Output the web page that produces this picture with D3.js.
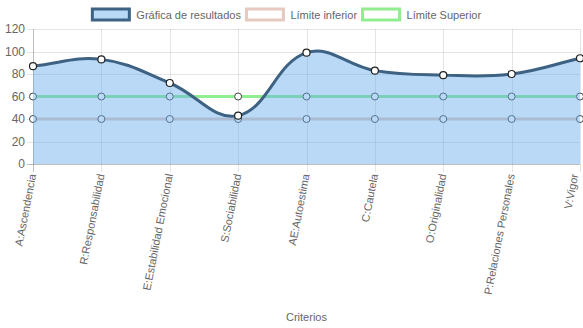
<!DOCTYPE html>
<html>
<head>
<meta charset="utf-8">
<script src="https://cdn.jsdelivr.net/npm/d3@7"></script>
<style>
  html, body { margin: 0; padding: 0; background: #fff; }
  svg { display: block; font-family: "Liberation Sans", Arial, Helvetica, sans-serif; }
</style>
</head>
<body>
<svg id="chart" width="583" height="328"></svg>
<script>
// Criteria on the x axis
const categories = [
  "A:Ascendencia", "R:Responsabilidad", "E:Estabilidad Emocional", "S:Sociabilidad",
  "AE:Autoestima", "C:Cautela", "O:Originalidad", "P:Relaciones Personales", "V:Vigor"
];
// Scores per criterion
const resultados = [87, 93, 72, 43, 99, 83, 79, 80, 94];
// Reference limits
const limiteInferior = [40, 40, 40, 40, 40, 40, 40, 40, 40];
const limiteSuperior = [60, 60, 60, 60, 60, 60, 60, 60, 60];
// Y axis ticks
const yTicks = [0, 20, 40, 60, 80, 100, 120];
// Legend entries
const legendLabels = ["Gráfica de resultados", "Límite inferior", "Límite Superior"];

const W = 583, H = 328;
const area = { left: 33, right: 580, top: 29, bottom: 164 };
const fontSize = 11;

const svg = d3.select("#chart");

const x = d3.scalePoint().domain(categories).range([area.left, area.right]);
const y = d3.scaleLinear().domain([0, 120]).range([area.bottom, area.top]);

// Spline with tension 0.4, control points weighted by segment length and kept inside the plot area
function tensionSpline(context) {
  const t = 0.4;
  const clampX = v => Math.max(area.left, Math.min(area.right, v));
  const clampY = v => Math.max(area.top, Math.min(area.bottom, v));
  return {
    _line: NaN, _pts: [],
    areaStart() { this._line = 0; },
    areaEnd() { this._line = NaN; },
    lineStart() { this._pts = []; },
    point(px, py) { this._pts.push([+px, +py]); },
    lineEnd() {
      const p = this._pts, n = p.length;
      if (n) {
        if (this._line) context.lineTo(p[0][0], p[0][1]);
        else context.moveTo(p[0][0], p[0][1]);
        const cps = p.map((cur, i) => {
          const prev = p[i - 1] || cur, next = p[i + 1] || cur;
          const d01 = Math.hypot(cur[0] - prev[0], cur[1] - prev[1]);
          const d12 = Math.hypot(next[0] - cur[0], next[1] - cur[1]);
          let s01 = d01 / (d01 + d12), s12 = d12 / (d01 + d12);
          if (!isFinite(s01)) s01 = 0;
          if (!isFinite(s12)) s12 = 0;
          const fa = t * s01, fb = t * s12;
          return {
            prev: [clampX(cur[0] - fa * (next[0] - prev[0])), clampY(cur[1] - fa * (next[1] - prev[1]))],
            next: [clampX(cur[0] + fb * (next[0] - prev[0])), clampY(cur[1] + fb * (next[1] - prev[1]))]
          };
        });
        for (let i = 1; i < n; i++) {
          const a = cps[i - 1].next, b = cps[i].prev;
          context.bezierCurveTo(a[0], a[1], b[0], b[1], p[i][0], p[i][1]);
        }
      }
      if (this._line || (this._line !== 0 && n === 1)) context.closePath();
      this._line = 1 - this._line;
    }
  };
}

const textColor = "#666";
const gridColor = "rgba(0,0,0,0.1)";
const zeroColor = "rgba(0,0,0,0.25)";

// Grid
const grid = svg.append("g");
yTicks.forEach(v => {
  grid.append("line")
    .attr("x1", area.left - 6).attr("x2", area.right)
    .attr("y1", Math.round(y(v)) + 0.5).attr("y2", Math.round(y(v)) + 0.5)
    .attr("stroke", v === 0 ? zeroColor : gridColor).attr("stroke-width", 1);
});
categories.forEach((c, i) => {
  grid.append("line")
    .attr("x1", Math.round(x(c)) + 0.5).attr("x2", Math.round(x(c)) + 0.5)
    .attr("y1", area.top).attr("y2", area.bottom + 8)
    .attr("stroke", i === 0 ? zeroColor : gridColor).attr("stroke-width", 1);
});

// Y axis labels
svg.append("g").selectAll("text").data(yTicks).join("text")
  .attr("x", area.left - 8).attr("y", d => y(d))
  .attr("dy", "0.35em").attr("text-anchor", "end")
  .attr("font-size", 12).attr("fill", textColor)
  .text(d => d);

// X axis labels, rotated; kept clear of the right edge of the canvas
svg.append("g").selectAll("text").data(categories).join("text")
  .attr("transform", d => `translate(${Math.min(x(d), W - 8)},${area.bottom + 10}) rotate(-79)`)
  .attr("dy", "0.3em").attr("text-anchor", "end")
  .attr("font-size", fontSize).attr("fill", textColor)
  .text(d => d);

// X axis title
svg.append("text")
  .attr("x", (area.left + area.right) / 2).attr("y", 321)
  .attr("text-anchor", "middle").attr("font-size", fontSize).attr("fill", textColor)
  .text("Criterios");

const line = d3.line().x((d, i) => x(categories[i])).y(d => y(d)).curve(tensionSpline);
const areaGen = d3.area().x((d, i) => x(categories[i])).y0(y(0)).y1(d => y(d)).curve(tensionSpline);

const fillColor = "rgba(99,171,235,0.45)";
const mainColor = "#3d6283";
const lowColor = "#e6c9bf";
const highColor = "#90ee90";

// Limit lines (drawn beneath the results fill)
[[limiteInferior, lowColor], [limiteSuperior, highColor]].forEach(([data, col]) => {
  svg.append("path").datum(data).attr("d", line)
    .attr("fill", "none").attr("stroke", col).attr("stroke-width", 3);
  svg.append("g").selectAll("circle").data(data).join("circle")
    .attr("cx", (d, i) => x(categories[i])).attr("cy", d => y(d))
    .attr("r", 3.5).attr("fill", "#fff").attr("stroke", "#444").attr("stroke-width", 1);
});

// Results area and line
svg.append("path").datum(resultados).attr("d", areaGen).attr("fill", fillColor);
svg.append("path").datum(resultados).attr("d", line)
  .attr("fill", "none").attr("stroke", mainColor).attr("stroke-width", 3);
svg.append("g").selectAll("circle").data(resultados).join("circle")
  .attr("cx", (d, i) => x(categories[i])).attr("cy", d => y(d))
  .attr("r", 3.5).attr("fill", "#fff").attr("stroke", "#222").attr("stroke-width", 1.2);

// Legend
const legendStyles = [
  { fill: fillColor, stroke: mainColor },
  { fill: "#fff", stroke: lowColor },
  { fill: "#fff", stroke: highColor }
];
const legend = svg.append("g");
const textOffset = 40 + fontSize / 2;
const items = legendLabels.map((label, i) => {
  const g = legend.append("g");
  g.append("rect").attr("x", 1.5).attr("y", 0).attr("width", 37).attr("height", 11)
    .attr("fill", legendStyles[i].fill).attr("stroke", legendStyles[i].stroke).attr("stroke-width", 3);
  const t = g.append("text").attr("x", textOffset).attr("y", 6).attr("dy", "0.35em")
    .attr("font-size", fontSize).attr("fill", textColor).text(label);
  return { g, w: textOffset + t.node().getComputedTextLength() };
});
const gap = 4;
const total = d3.sum(items, d => d.w) + gap * (items.length - 1);
let cx = 286 - total / 2;
items.forEach(it => {
  it.g.attr("transform", `translate(${cx},9)`);
  cx += it.w + gap;
});
</script>
</body>
</html>
